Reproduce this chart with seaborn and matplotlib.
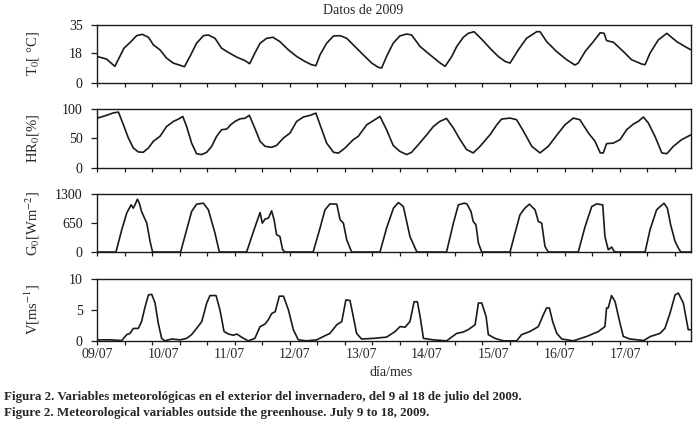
import numpy as np
import pandas as pd
import seaborn as sns
import matplotlib.pyplot as plt

# hours since 09/07 00:00
t_hours = [0, 3.5, 6.5, 9.8, 12, 14.4, 16.5, 18.7, 20.5, 22.9, 25.3, 27.7, 31.8, 33.8, 36.2,
           38.7, 40.5, 42.9, 45.3, 47.8, 50.8, 53.7, 55.5, 57.4, 59.3, 61.7, 64, 66.5, 69.6,
           72.6, 75.6, 78, 79.6, 81.1, 83.5, 86, 88.4, 90.8, 93.8, 96.8, 99.9, 102.3, 103.5,
           105.3, 107.7, 110.1, 112.6, 114.4, 117.5, 121.1, 124.8, 126.6, 129, 130.8, 133.2,
           135, 137.1, 139.9, 142.9, 145.9, 148.4, 150.2, 153.2, 156.2, 159.9, 161.1, 163.5,
           167.1, 170.8, 173.8, 175, 177.5, 180.5, 183, 184.4, 185.3, 187.8, 191.4, 194.4,
           198.1, 199.3, 201.1, 204.1, 207.2, 210.8, 213.8, 216]
t_vals = [16, 14.4, 10, 21, 24.4, 28.6, 29.4, 27.6, 23, 20, 15, 12, 9.8, 16, 24,
          28.6, 29, 27, 21, 18.4, 15.6, 13.6, 11.6, 18, 24, 27, 27.6, 25, 20,
          16, 13, 11, 10.4, 17, 24, 28.4, 28.6, 27, 22, 17, 12, 9.4, 9,
          16, 24, 28.4, 29.6, 29, 22, 17, 12, 10, 16, 22, 27.6,
          30, 31, 26.4, 21, 16, 13, 12, 20, 27, 31, 31, 25,
          19, 14, 10.8, 12, 19, 25, 30.4, 30, 25.6, 24.6, 19, 14,
          11.4, 11, 18, 26, 30, 25, 22, 20]

hr_hours = [0, 3.5, 5.9, 7.8, 9.6, 11.4, 13.2, 15, 16.8, 18.7, 20.5, 22.9, 25.3, 27.8, 29.6,
            31.2, 32.6, 34.4, 36.2, 38.1, 39.9, 41.7, 43.5, 45.3, 47.2, 48.6, 50.2, 52, 53.8,
            55.4, 57.4, 59.3, 61.1, 63.5, 65.3, 67.8, 70.2, 72.6, 75, 77.5, 79.6, 81.1, 83.5,
            86, 87.8, 90.2, 93.2, 95, 98.1, 100.5, 102.9, 105.3, 107.7, 110.1, 112.6, 114.4,
            116.8, 119.9, 122.3, 124.7, 127.1, 129.6, 132, 134.4, 136.8, 139.3, 142.9, 145.4,
            147.1, 150.2, 152.6, 155.1, 158.1, 161.1, 164.1, 167.8, 170.2, 173.2, 175.6, 178.7,
            181.1, 183, 184.1, 185.3, 187.8, 190.2, 192.6, 195, 196.8, 198.7, 200.5, 202.9,
            205.4, 207.2, 209.6, 212.6, 216]
hr_vals = [84, 89, 93, 94.4, 73, 50.6, 33.7, 27, 26.4, 33.7, 45, 53.4, 70, 78.7, 82.6,
           87, 70, 42, 24, 22.5, 26.4, 36.5, 53.4, 64.6, 65.7, 73, 78.7, 83, 84,
           89, 67, 45, 36.5, 34.8, 38, 50.6, 59, 78.7, 86, 89, 92.7, 73, 42,
           26.4, 25, 33.7, 47.8, 53.4, 73, 80, 87, 64.6, 38, 28, 22.5, 26.4,
           39, 56, 70, 78.7, 83.7, 67.4, 48, 31, 25.3, 36.5, 56, 73,
           82.6, 84.3, 81.5, 61.8, 36.5, 25.3, 36.5, 59, 73, 84.3, 81.5, 59,
           45, 25.3, 25.3, 41, 42, 47.8, 64.6, 74, 78.7, 86, 75.8, 53.4,
           25.3, 24, 36.5, 47.8, 56]

g_hours = [0, 6.9, 9, 10.8, 12.4, 13.2, 13.8, 14.7, 15.4, 16.2, 18.1, 19.3, 20.2,
           30.4, 32.6, 34.4, 36.2, 38.7, 40.5, 42.9, 44.5,
           54.4, 56.9, 59.3, 60.1, 61.1, 62.3, 63.5, 64.4, 65.3, 66.5, 67.5, 68.4,
           78.6, 81.1, 82.9, 84.7, 87.2, 88.4, 89.6, 90.8, 92.6,
           102.9, 105.3, 107.8, 109.6, 111.4, 113.8, 116.2, 116.9,
           127.1, 129.6, 131.4, 133.5, 134.5, 136, 136.8, 137.8, 138.7, 139.9,
           150.2, 152, 153.8, 155.6, 157.2, 159.3, 160.5, 161.7, 162.9, 164.1,
           175, 177.5, 179.9, 181.7, 183.9, 184.7, 185.9, 187.2, 188, 189,
           199.3, 201.1, 203.5, 204.5, 206.2, 207.4, 208.6, 210.2, 211.4, 212.3, 216]
g_vals = [0, 0, 500, 874, 1061, 986, 1061, 1188, 1098, 911, 650, 239, 0,
          0, 500, 911, 1076, 1098, 949, 426, 0,
          0, 463, 889, 650, 740, 762, 926, 725, 389, 351, 52, 0,
          0, 538, 949, 1083, 1076, 725, 650, 276, 0,
          0, 538, 986, 1113, 1023, 351, 15, 0,
          0, 650, 1061, 1098, 1083, 911, 687, 613, 202, 0,
          0, 426, 837, 986, 1076, 949, 687, 650, 127, 0,
          0, 575, 1023, 1083, 1061, 351, 52, 112, 15, 0,
          0, 500, 949, 1008, 1098, 986, 613, 239, 90, 0, 0]

v_hours = [0, 4.7, 9, 10.8, 12, 13.2, 15, 16.2, 17.5, 18.7, 19.9, 21.1, 22.3, 23.5, 24.7,
           27.2, 30.2, 32.6, 34.4, 36.2, 38.1, 39.9, 41.1, 43.3, 44.7, 46.2, 47.8, 49.6,
           50.8, 53.3, 55, 57.4, 59.3, 61.1, 62.3, 63.5, 64.8, 66.3, 67.8, 69.6, 71.4, 73.2,
           76.2, 79.9, 82.3, 84.7, 87.2, 89, 90.5, 92, 93.2, 94.4, 96.2, 100.5, 105.3, 108.4,
           110.2, 112, 113.8, 115.3, 116.5, 117.5, 118.7, 122.3, 127.1, 130.8, 133, 135,
           137.5, 138.7, 139.9, 141.5, 142.3, 144.7, 147.8, 152.6, 154.4, 157.4, 160.5,
           162.3, 163.5, 164.5, 165.7, 167.2, 169, 173.2, 178, 182.3, 184.7, 185.3, 185.9,
           187.1, 188.4, 190.2, 191.4, 193.8, 198.8, 201.2, 204.7, 206.5, 208.4, 210.2,
           211.4, 213.2, 215, 216]
v_vals = [0.16, 0.16, 0.05, 1.0, 1.2, 2.0, 2.0, 3.1, 5.5, 7.4, 7.5, 6.1, 2.8, 0.4, 0,
          0.3, 0.16, 0.4, 1.0, 2.0, 3.1, 6.1, 7.3, 7.3, 5, 1.5, 1.1, 0.9,
          1.1, 0.4, 0, 0.4, 2.3, 2.7, 3.4, 4.4, 4.7, 7.2, 7.2, 5, 1.8, 0.16,
          0, 0.16, 0.7, 1.2, 2.6, 3.1, 6.6, 6.5, 3.9, 1.2, 0.3, 0.4, 0.6, 1.5,
          2.3, 2.2, 3.1, 6.3, 6.3, 3.9, 0.4, 0.16, 0, 1.2, 1.4, 1.8,
          2.6, 6.1, 6.1, 3.9, 1.0, 0.4, 0, 0, 1.0, 1.5, 2.3,
          4.2, 5.3, 5.3, 3.1, 1.2, 0.3, 0, 0.7, 1.5, 2.3, 5.3, 5.3,
          7.3, 6.3, 2.8, 0.7, 0.3, 0.05, 0.7, 1.2, 2.0, 4.5, 7.4,
          7.7, 6.1, 1.8, 1.8]

day_labels = ["09/07", "10/07", "11/07", "12/07", "13/07", "14/07", "15/07", "16/07", "17/07"]

panels = [
    (t_hours, t_vals, "T$_0$[ °C]", [0, 18, 35], (0, 35)),
    (hr_hours, hr_vals, "HR$_0$[%]", [0, 50, 100], (0, 100)),
    (g_hours, g_vals, "G$_0$[Wm$^{-2}$]", [0, 650, 1300], (0, 1300)),
    (v_hours, v_vals, "V[ms$^{-1}$]", [0, 5, 10], (0, 10)),
]

sns.set_style("ticks")
plt.rcParams["font.family"] = ["Liberation Serif", "DejaVu Serif"]
plt.rcParams["mathtext.fontset"] = "stix"

fig = plt.figure(figsize=(6.97, 4.25), dpi=100)
boxes = [(0.805, 0.136), (0.605, 0.139), (0.407, 0.136), (0.198, 0.146)]
left, width = 97 / 697, 594 / 697

for (hours, vals, label, yticks, ylim), (bottom, height) in zip(panels, boxes):
    ax = fig.add_axes([left, bottom, width, height])
    df = pd.DataFrame({"hour": hours, "value": vals})
    sns.lineplot(data=df, x="hour", y="value", ax=ax, color="#1a1a1a", linewidth=1.2)
    ax.set_xlim(0, 216)
    ax.set_ylim(*ylim)
    ax.set_yticks(yticks)
    ax.set_xticks(np.arange(0, 211, 10))
    ax.set_xticklabels([])
    ax.set_xlabel("")
    ax.set_ylabel(label, fontsize=10.5, va="center")
    ax.yaxis.set_label_coords(-0.108, 0.5)
    ax.tick_params(axis="x", direction="out", length=3.2, width=0.9, colors="#1a1a1a")
    ax.tick_params(axis="y", direction="out", length=4.3, width=0.9, pad=6,
                   labelsize=10, colors="#1a1a1a")
    for s in ax.spines.values():
        s.set_linewidth(1.0)
        s.set_color("#1a1a1a")

# day labels under the bottom panel, at the day boundaries
for i, lab in enumerate(day_labels):
    ax.text(i * 24, -0.12, lab, transform=ax.get_xaxis_transform(), ha="center", va="top", fontsize=10)

fig.text(363 / 697, 1 - 10 / 425, "Datos de 2009", ha="center", va="center", fontsize=10)
fig.text(391 / 697, 1 - 372 / 425, "día/mes", ha="center", va="center", fontsize=10)
fig.text(4 / 697, 1 - 397 / 425,
         "Figura 2. Variables meteorológicas en el exterior del invernadero, del 9 al 18 de julio del 2009.",
         ha="left", va="center", fontsize=9.4, fontweight="bold")
fig.text(4 / 697, 1 - 413 / 425,
         "Figure 2. Meteorological variables outside the greenhouse. July 9 to 18, 2009.",
         ha="left", va="center", fontsize=9.4, fontweight="bold")

fig.savefig("out.png", dpi=100)
